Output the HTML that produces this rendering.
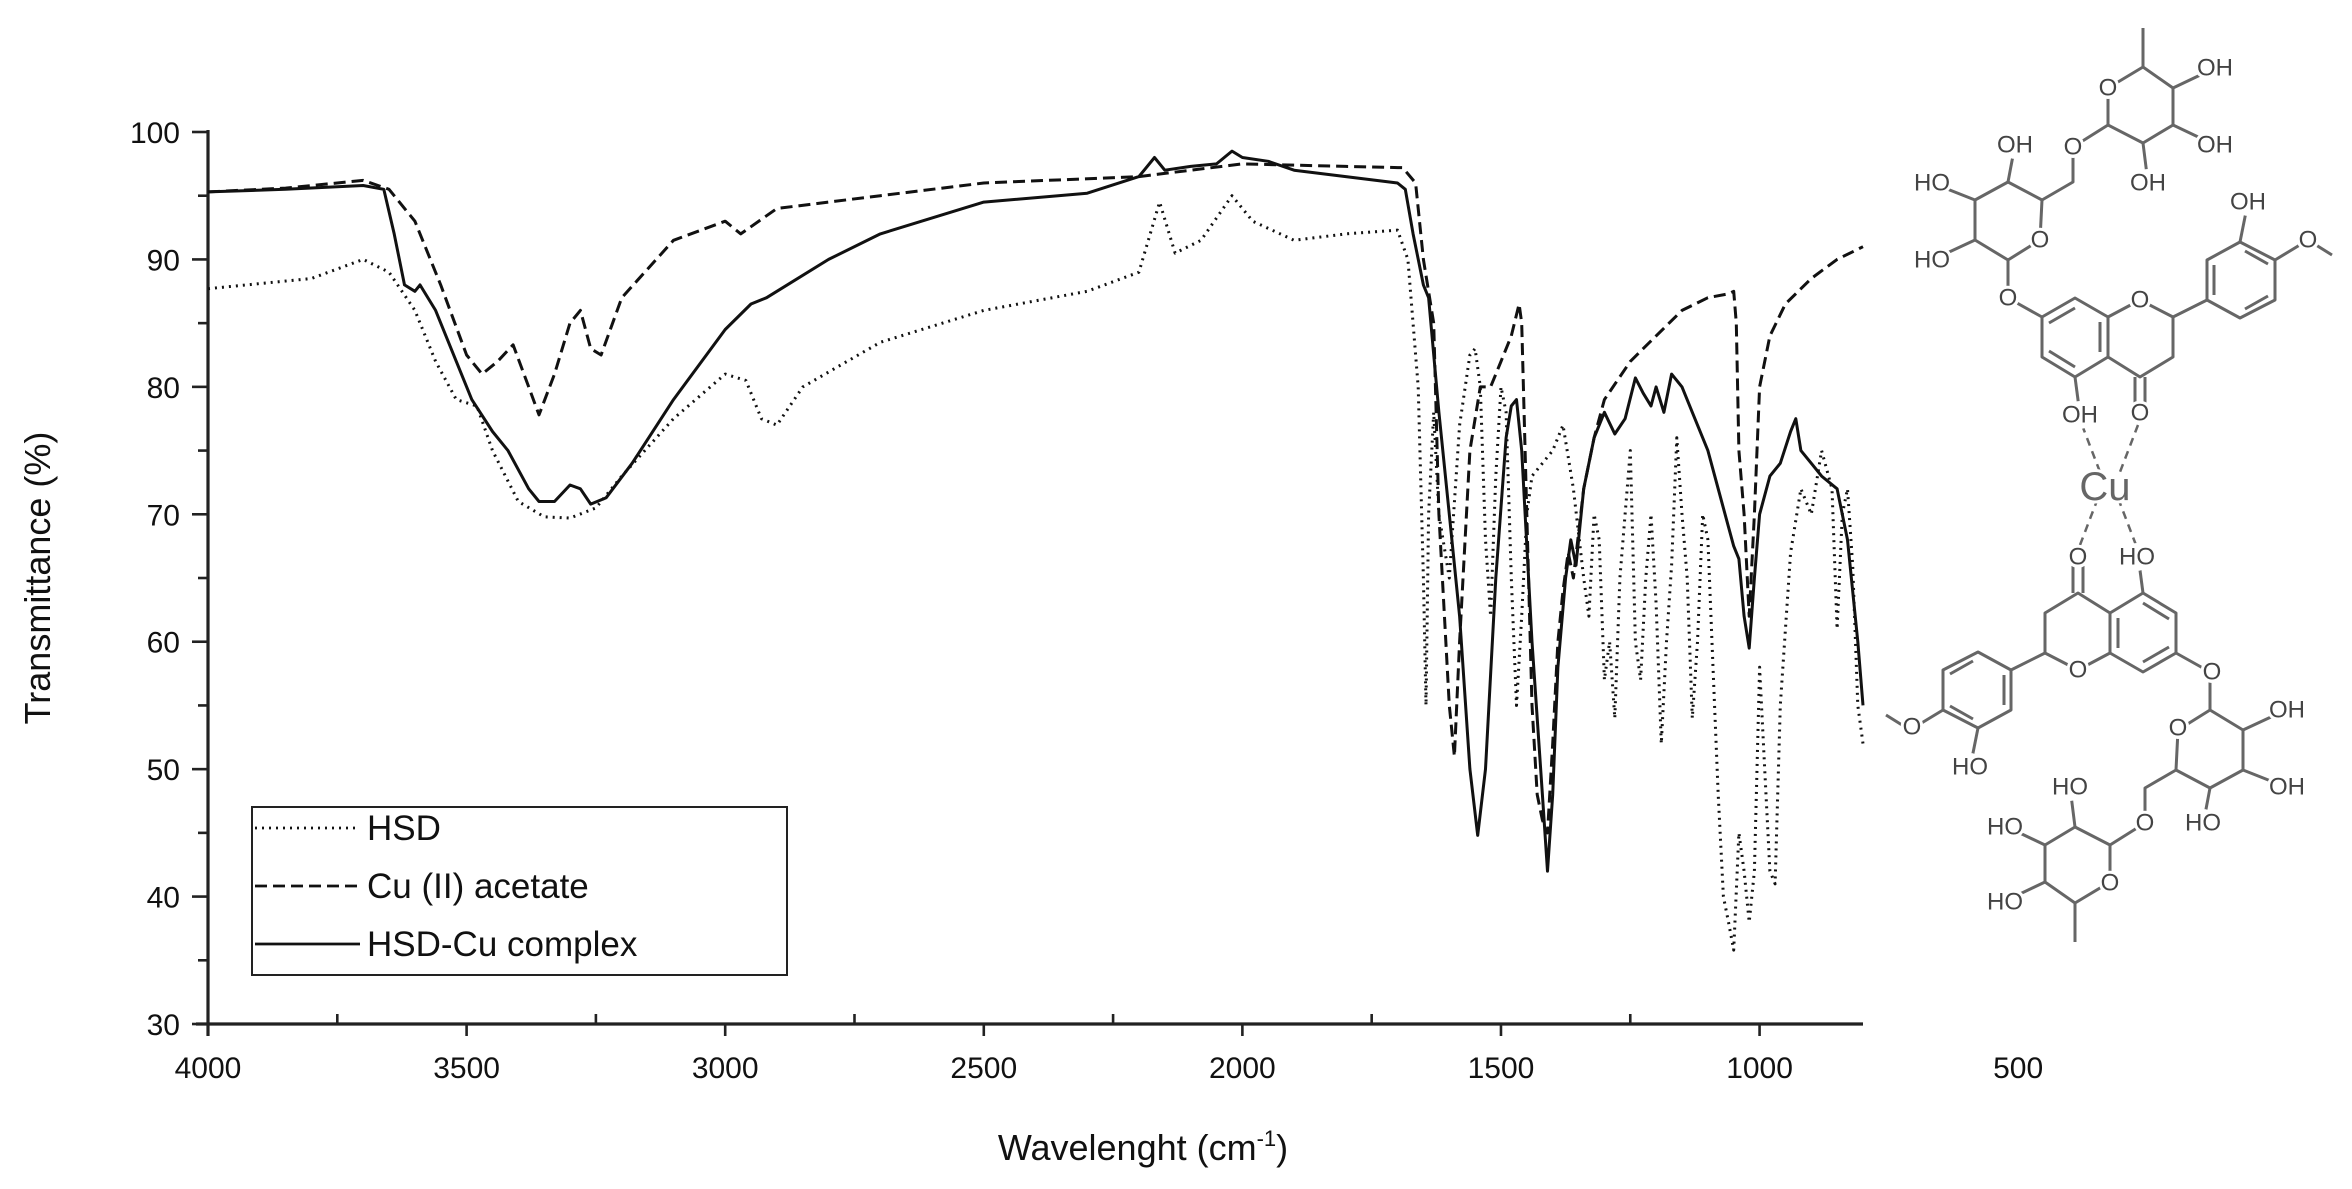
<!DOCTYPE html>
<html><head><meta charset="utf-8"><style>
html,body{margin:0;padding:0;background:#fff;}
svg{display:block;font-family:"Liberation Sans",Arial,sans-serif;}
.lab{font-size:24px;fill:#444;stroke:#fff;stroke-width:6px;paint-order:stroke;text-anchor:middle;dominant-baseline:central;}
</style></head><body>
<svg id="s" width="2352" height="1189" viewBox="0 0 2352 1189" xmlns="http://www.w3.org/2000/svg">
<rect width="2352" height="1189" fill="#fff"/>
<g id="axes" stroke="#222" stroke-width="3.2" fill="none">
<line x1="208" y1="130" x2="208" y2="1036"/>
<line x1="196" y1="1024" x2="1863" y2="1024"/>
</g>
<g id="ticks" stroke="#222" stroke-width="2.6"></g>
<g id="tl" font-size="30" fill="#111"></g>
<text x="1143" y="1160" font-size="36" text-anchor="middle" fill="#111">Wavelenght (cm<tspan dy="-14" font-size="22">-1</tspan><tspan dy="14">)</tspan></text>
<text transform="translate(50,578) rotate(-90)" font-size="36" text-anchor="middle" fill="#111">Transmittance (%)</text>
<g id="series" fill="none" stroke="#111" stroke-width="3" stroke-linejoin="round"></g>
<rect x="252" y="807" width="535" height="168" fill="#fff" stroke="#222" stroke-width="2"/>
<line x1="255" y1="828" x2="360" y2="828" stroke="#111" stroke-width="2.8" stroke-dasharray="2,5"/>
<line x1="255" y1="886" x2="360" y2="886" stroke="#111" stroke-width="2.8" stroke-dasharray="12,6"/>
<line x1="255" y1="944" x2="360" y2="944" stroke="#111" stroke-width="2.8"/>
<g font-size="35" fill="#111"><text x="367" y="840">HSD</text><text x="367" y="898">Cu (II) acetate</text><text x="367" y="956">HSD-Cu complex</text></g>

<defs>
<g id="mol" stroke="#666" stroke-width="3" fill="none" stroke-linejoin="round">
<polyline points="2143,28 2143,67"/>
<polygon points="2108,88 2143,67 2173,88 2173,125 2143,143 2108,125"/>
<polyline points="2173,88 2215,68"/><polyline points="2173,125 2215,145"/><polyline points="2143,143 2148,183"/>
<polyline points="2108,125 2073,147 2073,182 2042,200"/>
<polygon points="2042,200 2040,240 2008,260 1975,240 1975,200 2008,182"/>
<polyline points="2008,182 2015,145"/><polyline points="1975,200 1932,183"/><polyline points="1975,240 1932,260"/>
<polyline points="2008,260 2008,298 2042,317"/>
<polygon points="2042,317 2075,298 2108,317 2108,357 2075,377 2042,357"/>
<polyline points="2049,323 2075,308"/><polyline points="2100,322 2100,352"/><polyline points="2049,351 2075,367"/>
<polyline points="2108,317 2140,300 2173,317 2173,357 2140,377 2108,357"/>
<polyline points="2135,377 2135,413"/><polyline points="2145,377 2145,413"/>
<polyline points="2075,377 2080,415"/>
<polyline points="2173,317 2207,300"/>
<polygon points="2207,300 2207,260 2240,242 2275,260 2275,300 2240,318"/>
<polyline points="2214,295 2214,265"/><polyline points="2245,251 2268,264"/><polyline points="2268,296 2245,309"/>
<polyline points="2240,242 2248,202"/><polyline points="2275,260 2308,240 2332,255"/>
<polyline points="2082,425 2100,472" stroke-dasharray="8,6" stroke-width="2.5"/>
<polyline points="2138,425 2120,472" stroke-dasharray="8,6" stroke-width="2.5"/>
</g>
</defs>
<use href="#mol"/>
<use href="#mol" transform="translate(4218,970) scale(-1,-1)"/>
<g id="labs">
<text class="lab" x="2215" y="68">OH</text><text class="lab" x="2215" y="145">OH</text><text class="lab" x="2148" y="183">OH</text>
<text class="lab" x="2073" y="147">O</text><text class="lab" x="2108" y="88">O</text><text class="lab" x="2015" y="145">OH</text>
<text class="lab" x="1932" y="183">HO</text><text class="lab" x="1932" y="260">HO</text><text class="lab" x="2040" y="240">O</text>
<text class="lab" x="2008" y="298">O</text><text class="lab" x="2140" y="300">O</text><text class="lab" x="2080" y="415">OH</text>
<text class="lab" x="2140" y="413">O</text><text class="lab" x="2248" y="202">OH</text><text class="lab" x="2308" y="240">O</text>
<text class="lab" x="2078" y="557">O</text><text class="lab" x="2137" y="557">HO</text><text class="lab" x="2078" y="670">O</text>
<text class="lab" x="2212" y="672">O</text><text class="lab" x="2287" y="710">OH</text><text class="lab" x="2178" y="728">O</text>
<text class="lab" x="2287" y="787">OH</text><text class="lab" x="1970" y="767">HO</text><text class="lab" x="1912" y="727">O</text>
<text class="lab" x="2070" y="787">HO</text><text class="lab" x="2005" y="827">HO</text><text class="lab" x="2145" y="823">O</text>
<text class="lab" x="2203" y="823">HO</text><text class="lab" x="2110" y="883">O</text><text class="lab" x="2005" y="902">HO</text>
</g>
<text x="2105" y="500" font-size="40" fill="#666" text-anchor="middle" stroke="#fff" stroke-width="6" paint-order="stroke">Cu</text>
</svg>
<script>
var X=function(w){return 208+(4000-w)*0.51719;},Y=function(t){return 132+(100-t)*12.743;};
var NS="http://www.w3.org/2000/svg";
function el(p,n,a,txt){var e=document.createElementNS(NS,n);for(var k in a)e.setAttribute(k,a[k]);if(txt!==undefined)e.textContent=txt;document.getElementById(p).appendChild(e);return e;}
var g=document.getElementById("labs");var ts=g.querySelectorAll("text");
for(var i=0;i<ts.length;i++){var t=ts[i];var c=document.createElementNS(NS,"circle");c.setAttribute("cx",t.getAttribute("x"));c.setAttribute("cy",t.getAttribute("y"));c.setAttribute("r",t.textContent.length>1?14:11);c.setAttribute("fill","#fff");g.insertBefore(c,g.firstChild);}
for(var t=30;t<=100;t+=5){var y=Y(t);el("ticks","line",{x1:t%10==0?192:198,y1:y,x2:208,y2:y});if(t%10==0)el("tl","text",{x:180,y:y+11,"text-anchor":"end"},t);}
for(var w=4000;w>=1000;w-=250){var x=X(w);if(w%500==0){el("ticks","line",{x1:x,y1:1024,x2:x,y2:1036});}else{el("ticks","line",{x1:x,y1:1024,x2:x,y2:1014});}}
for(var w=4000;w>=500;w-=500){el("tl","text",{x:X(w),y:1078,"text-anchor":"middle"},w);}
function path(d,dash){var s="";for(var i=0;i<d.length;i+=2){s+=(i?"L":"M")+X(d[i]).toFixed(1)+","+Y(d[i+1]).toFixed(1);}var a={d:s};if(dash)a["stroke-dasharray"]=dash;el("series","path",a);}
var cu=[4000,95.3,3850,95.6,3700,96.2,3650,95.5,3600,93,3550,88,3500,82.5,3470,81,3440,82,3410,83.3,3380,80,3360,77.8,3330,81,3300,85,3280,86,3260,83,3240,82.5,3200,87,3100,91.5,3000,93,2970,92,2900,94,2700,95,2500,96,2200,96.5,2100,97,2000,97.5,1800,97.3,1690,97.2,1665,96,1650,90,1630,85,1620,70,1600,55,1590,51,1580,60,1560,75,1540,80,1520,80,1500,82,1480,84,1465,86.5,1460,85,1450,70,1440,55,1430,48,1420,46,1410,45,1400,52,1390,60,1380,64,1370,67,1360,65,1340,72,1320,76,1300,79,1250,82,1200,84,1150,86,1100,87,1060,87.3,1050,87.5,1045,85,1040,75,1030,70,1020,62,1010,70,1000,80,980,84,950,86.5,900,88.5,850,90,800,91];
var cx=[4000,95.3,3850,95.5,3700,95.8,3660,95.5,3640,92,3620,88,3600,87.5,3590,88,3560,86,3520,82,3490,79,3450,76.5,3420,75,3380,72,3360,71,3330,71,3300,72.3,3280,72,3260,70.8,3230,71.3,3180,74,3100,79,3000,84.5,2950,86.5,2920,87,2900,87.5,2800,90,2700,92,2500,94.5,2300,95.2,2200,96.5,2170,98,2150,97,2100,97.3,2050,97.5,2020,98.5,2000,98,1950,97.7,1900,97,1800,96.5,1700,96,1685,95.5,1670,92,1650,88,1640,87,1620,78,1600,70,1580,62,1560,50,1545,44.8,1530,50,1510,65,1490,76,1480,78.5,1470,79,1460,75,1440,60,1420,48,1410,42,1400,48,1390,58,1375,65,1365,68,1355,66,1340,72,1320,76,1300,78,1280,76.3,1260,77.5,1240,80.7,1225,79.5,1210,78.5,1200,80,1185,78,1170,81,1150,80,1130,78,1100,75,1080,72,1060,69,1050,67.5,1040,66.5,1030,62,1020,59.5,1010,65,1000,70,980,73,960,74,940,76.5,930,77.5,920,75,900,74,880,73,850,72,830,68,810,60,800,55];
var hs=[4000,87.7,3800,88.5,3700,90,3650,89,3600,86,3560,82,3520,79,3480,78.5,3450,75,3400,71,3350,69.8,3300,69.7,3250,70.5,3200,73,3100,77.5,3000,81,2960,80.5,2930,77.5,2900,77,2850,80,2700,83.5,2500,86,2300,87.5,2200,89,2160,94.5,2130,90.5,2080,91.5,2020,95,1980,93,1900,91.5,1800,92,1700,92.3,1680,90,1660,80,1650,65,1645,55,1640,70,1630,78,1620,70,1600,65,1580,77,1560,82.5,1550,83,1540,80,1530,68,1520,62,1510,73,1500,80,1490,78,1480,65,1470,55,1460,62,1450,70,1440,73,1420,74,1400,75,1380,77,1360,72,1340,65,1330,62,1320,70,1310,68,1300,57,1290,60,1280,54,1270,65,1260,70,1250,75,1240,60,1230,57,1220,65,1210,70,1200,63,1190,52,1180,60,1170,66,1160,76,1150,70,1140,65,1130,54,1120,60,1110,70,1100,68,1090,58,1080,48,1070,40,1060,38,1050,35.8,1040,45,1030,42,1020,38,1010,42,1000,58,990,50,980,42,970,41,960,55,940,67,920,72,900,70,880,75,860,72,850,61,840,70,830,72,820,66,810,55,800,52];
path(hs,"2,5");path(cu,"12,6");path(cx,null);
</script>
</body></html>
